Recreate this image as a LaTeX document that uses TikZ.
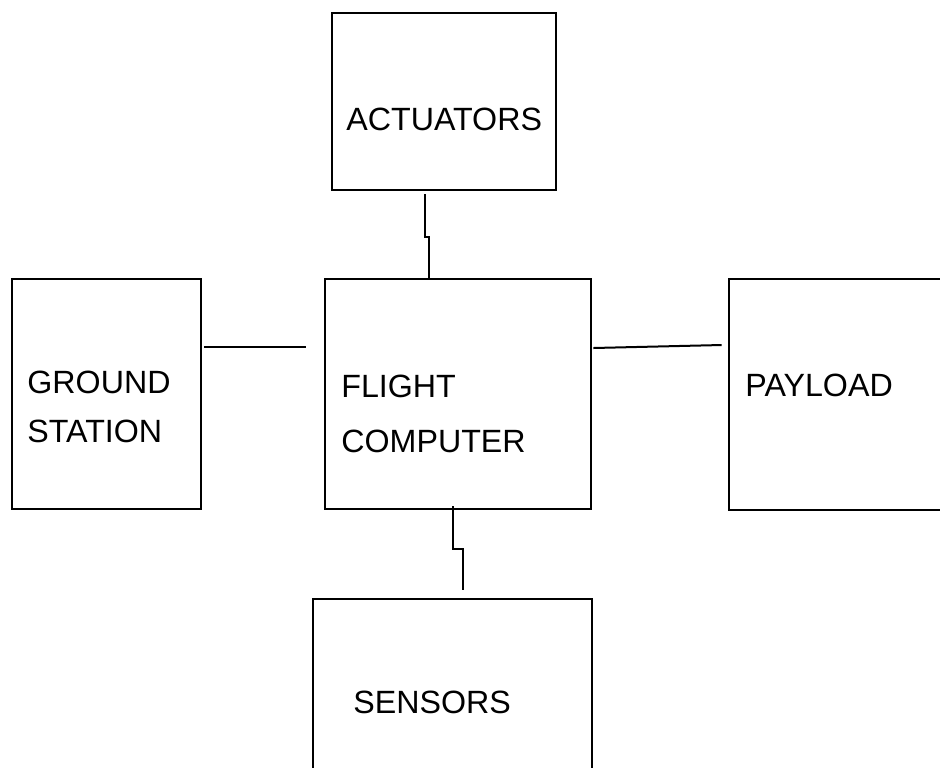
\documentclass[tikz,border=0pt]{standalone}
\usepackage{fontspec}
\setmainfont{Liberation Sans}
\usetikzlibrary{calc}

\begin{document}
\begin{tikzpicture}[x=0.5pt,y=-0.5pt,
  box/.style={draw,line width=1.3pt,inner sep=0pt},
  lbl/.style={anchor=base west,inner sep=0pt,align=left,
    font=\fontsize{16.1}{24.5}\selectfont},
  wire/.style={line width=1pt}]
  \useasboundingbox (0,0) rectangle (940,767);
  % blocks
  \node[box,minimum width=112pt,minimum height=88.5pt] (act) at (444,101.5) {};
  \node[box,minimum width=133pt,minimum height=115pt] (fc) at (458,394) {};
  \node[box,minimum width=94.5pt,minimum height=115pt] (gs) at (106.5,394) {};
  \node[box,minimum width=115.5pt,minimum height=115.5pt] (pay) at (844.5,394.5) {};
  \node[box,minimum width=139.5pt,minimum height=95.5pt] (sen) at (452.5,694.5) {};
  % texts (base = last line)
  \node[lbl] (actlbl) at (346,130) {ACTUATORS};
  \node[lbl] (gslbl) at (27,442) {GROUND\\STATION};
  \node[lbl] (fclbl) at (341,452) {FLIGHT\\[3pt]COMPUTER};
  \node[lbl] (paylbl) at (745,396) {PAYLOAD};
  \node[lbl] (senlbl) at (353,713) {SENSORS};
  % links
  \draw[wire] ($(act.south)+(-19,3)$) |- ($(act.south)+(-15,46)$) -- (fc.north -| 429,0);
  \draw[wire] ($(gs.east)+(2,-47)$) -- ($(fc.west)+(-18,-47)$);
  \draw[wire] ($(fc.east)+(1,-46)$) -- ($(pay.west)+(-6,-49.5)$);
  \draw[wire] ($(fc.south)+(-5,-4)$) |- ($(fc.south)+(5,39)$) -- ($(sen.north)+(10.5,-8)$);
\end{tikzpicture}
\end{document}
